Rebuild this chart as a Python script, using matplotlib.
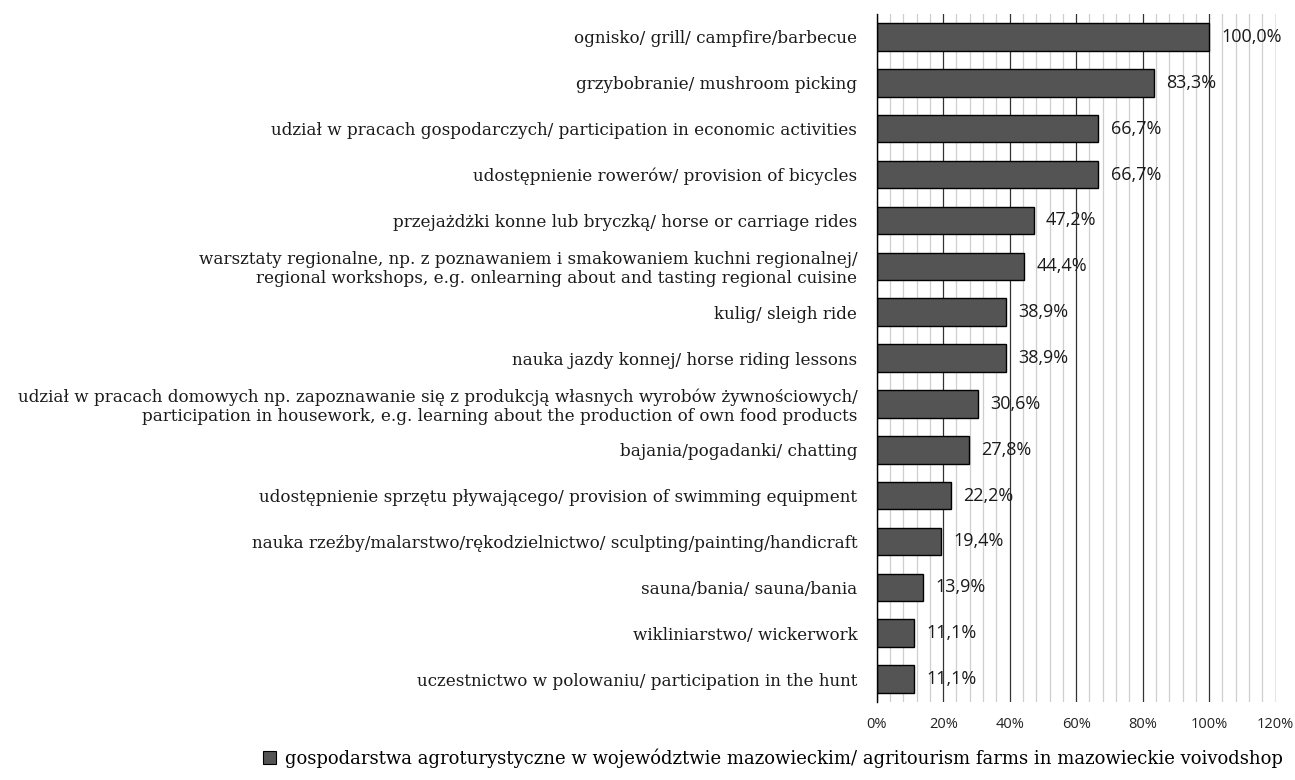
import matplotlib
matplotlib.use("Agg")
import matplotlib.pyplot as plt
from matplotlib.ticker import MultipleLocator, FuncFormatter
from matplotlib.patches import Patch

# ---- Data ----
categories = [
    "ognisko/ grill/ campfire/barbecue",
    "grzybobranie/ mushroom picking",
    "udział w pracach gospodarczych/ participation in economic activities",
    "udostępnienie rowerów/ provision of bicycles",
    "przejażdżki konne lub bryczką/ horse or carriage rides",
    "warsztaty regionalne, np. z poznawaniem i smakowaniem kuchni regionalnej/\n"
    "regional workshops, e.g. onlearning about and tasting regional cuisine",
    "kulig/ sleigh ride",
    "nauka jazdy konnej/ horse riding lessons",
    "udział w pracach domowych np. zapoznawanie się z produkcją własnych wyrobów żywnościowych/\n"
    "participation in housework, e.g. learning about the production of own food products",
    "bajania/pogadanki/ chatting",
    "udostępnienie sprzętu pływającego/ provision of swimming equipment",
    "nauka rzeźby/malarstwo/rękodzielnictwo/ sculpting/painting/handicraft",
    "sauna/bania/ sauna/bania",
    "wikliniarstwo/ wickerwork",
    "uczestnictwo w polowaniu/ participation in the hunt",
]
values = [100.0, 83.3, 66.7, 66.7, 47.2, 44.4, 38.9, 38.9, 30.6, 27.8, 22.2, 19.4, 13.9, 11.1, 11.1]
series_name = ("gospodarstwa agroturystyczne w województwie mazowieckim/ "
               "agritourism farms in mazowieckie voivodshop")

bar_color = "#545454"
label_font = "DejaVu Serif"
sans_font = "Open Sans"

fig = plt.figure(figsize=(12.95, 7.8), dpi=100)
ax = fig.add_axes([0.677, 0.100, 0.308, 0.882])

y = list(range(len(categories)))
ax.barh(y, values, height=0.6, color=bar_color, edgecolor="black", linewidth=1.0, zorder=3)
ax.set_ylim(len(categories) - 0.5, -0.5)
ax.set_xlim(0, 120)

# grid: light minor lines every 4%, dark major every 20%
ax.xaxis.set_major_locator(MultipleLocator(20))
ax.xaxis.set_minor_locator(MultipleLocator(4))
ax.grid(axis="x", which="minor", color="#cfcfcf", linewidth=0.9, zorder=0)
ax.grid(axis="x", which="major", color="#333333", linewidth=0.9, zorder=1)
ax.xaxis.set_major_formatter(FuncFormatter(lambda v, p: f"{v:.0f}%"))
ax.tick_params(axis="x", which="both", length=0, pad=11, labelsize=10.5, labelcolor="#222222")
for t in ax.get_xticklabels():
    t.set_fontfamily(sans_font)

ax.set_yticks(y)
ax.set_yticklabels(categories, fontsize=12.1, fontfamily=label_font, ha="right",
                   color="#1a1a1a", linespacing=1.15)
ax.tick_params(axis="y", length=0, pad=14)

for s in ["top", "right", "bottom"]:
    ax.spines[s].set_visible(False)
ax.spines["left"].set_color("black")
ax.spines["left"].set_linewidth(1.0)
ax.spines["left"].set_zorder(4)

for yi, v in zip(y, values):
    ax.text(v + 3.7, yi, f"{v:.1f}%".replace(".", ","), va="center", ha="left",
            fontsize=13, fontfamily=sans_font, color="#1a1a1a", zorder=5)

handle = Patch(facecolor=bar_color, edgecolor="black", linewidth=0.8)
fig.legend([handle], [series_name], loc="center", bbox_to_anchor=(0.597, 0.028),
           frameon=False, prop={"family": label_font, "size": 13},
           handlelength=0.7, handleheight=0.7, handletextpad=0.5)

fig.savefig("out.png", dpi=100)
